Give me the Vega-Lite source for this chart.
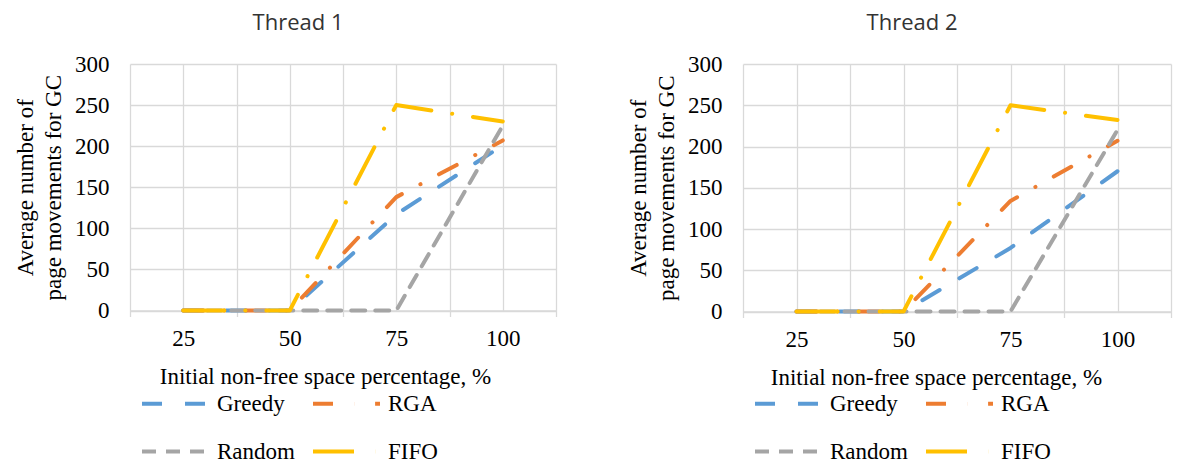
{
  "$schema": "https://vega.github.io/schema/vega-lite/v6.json",
  "padding": {"left": 14, "top": 12, "right": 5, "bottom": 5},
  "spacing": 70,
  "background": "white",
  "config": {
    "view": {"stroke": null},
    "font": "Liberation Serif",
    "axis": {
      "labelFont": "Liberation Serif", "labelFontSize": 23, "labelColor": "#000000",
      "titleFont": "Liberation Serif", "titleFontSize": 23, "titleFontWeight": "normal", "titleColor": "#000000",
      "gridColor": "#D9D9D9", "gridWidth": 1.3, "domainColor": "#D9D9D9", "domainWidth": 1.3, "tickColor": "#D9D9D9", "tickWidth": 1.3
    },
    "legend": {
      "labelFont": "Liberation Serif", "labelFontSize": 23, "labelColor": "#000000",
      "symbolType": "stroke", "symbolSize": 4489, "symbolStrokeWidth": 4,
      "labelOffset": 6, "rowPadding": -30, "columnPadding": 10, "padding": 0
    },
    "title": {"font": "Open Sans", "fontSize": 22, "fontWeight": "normal", "color": "#333333", "baseline": "alphabetic", "anchor": "middle", "dx": -45}
  },
  "datasets": {
    "t1": [
      {"series": "Greedy", "x": 25, "y": 0}, {"series": "Greedy", "x": 50, "y": 0}, {"series": "Greedy", "x": 75, "y": 117}, {"series": "Greedy", "x": 100, "y": 201},
      {"series": "RGA", "x": 25, "y": 0}, {"series": "RGA", "x": 50, "y": 0}, {"series": "RGA", "x": 75, "y": 138}, {"series": "RGA", "x": 100, "y": 207},
      {"series": "Random", "x": 25, "y": 0}, {"series": "Random", "x": 50, "y": 0}, {"series": "Random", "x": 75, "y": 0}, {"series": "Random", "x": 100, "y": 225},
      {"series": "FIFO", "x": 25, "y": 0}, {"series": "FIFO", "x": 50, "y": 0}, {"series": "FIFO", "x": 75, "y": 250}, {"series": "FIFO", "x": 100, "y": 230}
    ],
    "t2": [
      {"series": "Greedy", "x": 25, "y": 0}, {"series": "Greedy", "x": 50, "y": 0}, {"series": "Greedy", "x": 75, "y": 77}, {"series": "Greedy", "x": 100, "y": 170},
      {"series": "RGA", "x": 25, "y": 0}, {"series": "RGA", "x": 50, "y": 0}, {"series": "RGA", "x": 75, "y": 134}, {"series": "RGA", "x": 100, "y": 207},
      {"series": "Random", "x": 25, "y": 0}, {"series": "Random", "x": 50, "y": 0}, {"series": "Random", "x": 75, "y": 0}, {"series": "Random", "x": 100, "y": 220},
      {"series": "FIFO", "x": 25, "y": 0}, {"series": "FIFO", "x": 50, "y": 0}, {"series": "FIFO", "x": 75, "y": 250}, {"series": "FIFO", "x": 100, "y": 232}
    ]
  },
  "hconcat": [
    {
      "title": {"text": "Thread 1", "offset": 18},
      "width": 426, "height": 246.5,
      "data": {"name": "t1"},
      "mark": {"type": "line", "strokeWidth": 4, "strokeCap": "round", "strokeJoin": "round"},
      "encoding": {
        "x": {"field": "x", "type": "quantitative",
          "scale": {"domain": [12.5, 112.5], "nice": false, "zero": false},
          "axis": {"title": "Initial non-free space percentage, %", "values": [12.5, 25, 37.5, 50, 62.5, 75, 87.5, 100, 112.5],
            "labelExpr": "datum.value % 25 === 0 ? datum.label : ''",
            "tickOpacity": {"condition": {"test": "datum.value % 25 === 0", "value": 0}, "value": 1},
            "tickSize": 6, "labelPadding": 11, "titlePadding": 15, "titleX": 195, "labelFlush": false, "labelOverlap": false}},
        "y": {"field": "y", "type": "quantitative",
          "scale": {"domain": [0, 300], "nice": false},
          "axis": {"title": ["Average number of", "page movements for GC"], "values": [0, 50, 100, 150, 200, 250, 300],
            "ticks": false, "domain": false, "labelPadding": 21, "titlePadding": 9, "titleLineHeight": 28}},
        "color": {"field": "series", "type": "nominal",
          "scale": {"domain": ["Greedy", "Random", "RGA", "FIFO"], "range": ["#5B9BD5", "#A5A5A5", "#ED7D31", "#FFC000"]},
          "legend": {"title": null, "orient": "none", "legendX": 10, "legendY": 304, "columns": 2}},
        "strokeDash": {"field": "series", "type": "nominal",
          "scale": {"domain": ["Greedy", "Random", "RGA", "FIFO"], "range": [[20, 23], [14, 10], [20, 21, 0.1, 21], [41, 21, 0.1, 21]]},
          "legend": {"title": null, "orient": "none", "legendX": 10, "legendY": 304, "columns": 2}}
      }
    },
    {
      "title": {"text": "Thread 2", "offset": 18},
      "width": 428, "height": 247.5,
      "data": {"name": "t2"},
      "mark": {"type": "line", "strokeWidth": 4, "strokeCap": "round", "strokeJoin": "round"},
      "encoding": {
        "x": {"field": "x", "type": "quantitative",
          "scale": {"domain": [12.5, 112.5], "nice": false, "zero": false},
          "axis": {"title": "Initial non-free space percentage, %", "values": [12.5, 25, 37.5, 50, 62.5, 75, 87.5, 100, 112.5],
            "labelExpr": "datum.value % 25 === 0 ? datum.label : ''",
            "tickOpacity": {"condition": {"test": "datum.value % 25 === 0", "value": 0}, "value": 1},
            "tickSize": 6, "labelPadding": 11, "titlePadding": 15, "titleX": 193, "labelFlush": false, "labelOverlap": false}},
        "y": {"field": "y", "type": "quantitative",
          "scale": {"domain": [0, 300], "nice": false},
          "axis": {"title": ["Average number of", "page movements for GC"], "values": [0, 50, 100, 150, 200, 250, 300],
            "ticks": false, "domain": false, "labelPadding": 21, "titlePadding": 9, "titleLineHeight": 28}},
        "color": {"field": "series", "type": "nominal",
          "scale": {"domain": ["Greedy", "Random", "RGA", "FIFO"], "range": ["#5B9BD5", "#A5A5A5", "#ED7D31", "#FFC000"]},
          "legend": {"title": null, "orient": "none", "legendX": 10, "legendY": 304, "columns": 2}},
        "strokeDash": {"field": "series", "type": "nominal",
          "scale": {"domain": ["Greedy", "Random", "RGA", "FIFO"], "range": [[20, 23], [14, 10], [20, 21, 0.1, 21], [41, 21, 0.1, 21]]},
          "legend": {"title": null, "orient": "none", "legendX": 10, "legendY": 304, "columns": 2}}
      }
    }
  ],
  "resolve": {
    "scale": {"color": "independent", "strokeDash": "independent"},
    "legend": {"color": "independent", "strokeDash": "independent"}
  }
}
